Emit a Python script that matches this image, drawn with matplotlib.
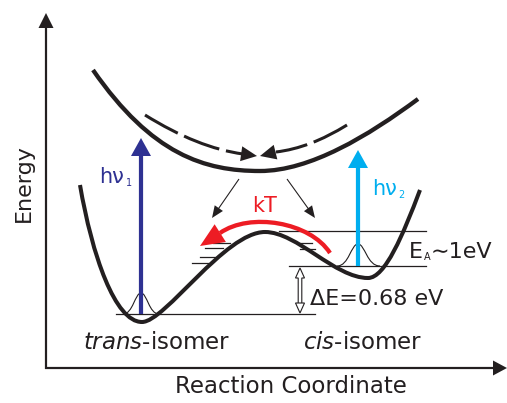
import matplotlib
matplotlib.use("Agg")
import matplotlib.pyplot as plt
from matplotlib.path import Path
from matplotlib.patches import PathPatch

plt.rcParams['font.family'] = ['DejaVu Sans']
plt.rcParams['mathtext.fontset'] = 'dejavusans'
plt.rcParams['lines.scale_dashes'] = False

INK = '#231f20'
DARK_BLUE = '#2e3192'
LIGHT_BLUE = '#00aeef'
RED = '#ed1c24'

# ---- geometry (pixel coordinates, y downward) ----
axis_origin = (46, 368)
axis_top = 13
axis_right = 507

# ground-state potential: cubic Bezier (anchor, ctrl, ctrl, anchor, ...)
ground_curve = [(80, 185), (92, 255), (115, 322), (142, 322),
                (165, 322), (225, 232), (265, 232),
                (297, 232), (335, 278), (368, 278),
                (385, 278), (403, 235), (420, 190)]
# excited-state potential
excited_curve = [(93, 70), (152, 155), (205, 171), (260, 171),
                 (310, 171), (368, 136), (418, 99)]
# dashed relaxation paths (quadratic Bezier) and their heads
dash_left = [(145, 115), (198, 148), (243, 154)]
dash_left_head = [(243, 154), (257, 156)]
dash_right = [(347, 125), (310, 148), (276, 152)]
dash_right_head = [(276, 152), (260, 156)]
# thermal (kT) path
kt_curve = [(330, 253), (310, 222), (250, 212), (220, 233)]
kt_head = [(222, 232), (200, 246)]
# thin decay arrows
decay_arrows = [((239, 179), (212, 218)), ((287, 179), (315, 218))]
# optical excitations: (x, y_from, y_to)
hv1 = (141, 314, 138)
hv2 = (358, 266, 150)
# vibrational wave packets
packet_trans = [(123, 314), (133, 314), (135, 293), (141, 293),
                (147, 293), (149, 314), (159, 314)]
packet_cis = [(337, 266), (349, 266), (351, 244), (358, 244),
              (365, 244), (367, 266), (380, 266)]
# energy levels: (y, x_start, x_end)
levels = [(314, 116, 315), (266, 289, 426), (231, 279, 426)]
small_levels = [(243, 213, 230), (248, 205, 223), (257, 200, 217), (263, 192, 208),
                (243, 297, 312), (249, 300, 315)]
# Delta E arrow (x, y_top, y_bottom)
delta_e = (300, 268, 313)


def bezier(points, order=3):
    code = Path.CURVE4 if order == 3 else Path.CURVE3
    codes = [Path.MOVETO] + [code] * (len(points) - 1)
    return Path(points, codes)


fig = plt.figure(figsize=(5.07, 4.03), dpi=100)
ax = fig.add_axes([0, 0, 1, 1])
ax.set_xlim(0, 507)
ax.set_ylim(403, 0)
ax.axis('off')

# axes arrows
ox, oy = axis_origin
ax.arrow(ox, oy + 1, 0, axis_top - oy - 1, width=2.2, head_width=15, head_length=15,
         length_includes_head=True, color=INK, lw=0)
ax.arrow(ox - 1, oy, axis_right - ox + 1, 0, width=2.2, head_width=15, head_length=14,
         length_includes_head=True, color=INK, lw=0)

# energy levels
for y, x0, x1 in levels:
    ax.plot([x0, x1], [y, y], color=INK, lw=0.9)
for y, x0, x1 in small_levels:
    ax.plot([x0, x1], [y, y], color=INK, lw=0.9)

# wave packets
for pk in (packet_trans, packet_cis):
    ax.add_patch(PathPatch(bezier(pk), fill=False, ec=INK, lw=0.8))

# potential curves
ax.add_patch(PathPatch(bezier(ground_curve), fill=False, ec=INK, lw=2.9,
                       capstyle='butt'))
ax.add_patch(PathPatch(bezier(excited_curve), fill=False, ec=INK, lw=3.1,
                       capstyle='butt'))

# dashed relaxation arrows
for crv, hd in ((dash_left, dash_left_head), (dash_right, dash_right_head)):
    ax.add_patch(PathPatch(bezier(crv, order=2), fill=False, ec=INK, lw=2.2,
                           linestyle=(0, (27, 5)), capstyle='butt'))
    (x0, y0), (x1, y1) = hd
    ax.arrow(x0, y0, x1 - x0, y1 - y0, width=0.5, head_width=15, head_length=16,
             length_includes_head=True, color=INK, lw=0)

# thin decay arrows
for (x0, y0), (x1, y1) in decay_arrows:
    ax.arrow(x0, y0, x1 - x0, y1 - y0, width=1.1, head_width=10, head_length=12,
             length_includes_head=True, color=INK, lw=0)

# photon arrows
for (x, y0, y1), col in ((hv1, DARK_BLUE), (hv2, LIGHT_BLUE)):
    ax.arrow(x, y0, 0, y1 - y0, width=4.2, head_width=20, head_length=18,
             length_includes_head=True, color=col, lw=0, zorder=3)

# kT arrow
ax.add_patch(PathPatch(bezier(kt_curve), fill=False, ec=RED, lw=3.1,
                       capstyle='butt', zorder=4))
(x0, y0), (x1, y1) = kt_head
ax.arrow(x0, y0, x1 - x0, y1 - y0, width=0.5, head_width=21, head_length=24,
         length_includes_head=True, color=RED, lw=0, zorder=4)

# Delta E hollow double arrow
x, yt, yb = delta_e
ax.arrow(x, yb - 9, 0, yt - (yb - 9), width=3.6, head_width=9, head_length=10,
         length_includes_head=True, fc='white', ec=INK, lw=0.8, zorder=5)
ax.arrow(x, yb - 10, 0, 10, width=3.6, head_width=9, head_length=10,
         length_includes_head=True, fc='white', ec=INK, lw=0.8, zorder=6)

# text
ax.text(24, 183, 'Energy', rotation=90, ha='center', va='center',
        fontsize=16, color=INK)
ax.text(291, 393, 'Reaction Coordinate', ha='center', va='baseline',
        fontsize=16.5, color=INK)
ax.text(83, 349, r'$\mathit{trans}$-isomer', ha='left', va='baseline',
        fontsize=16.5, color=INK)
ax.text(303, 349, r'$\mathit{cis}$-isomer', ha='left', va='baseline',
        fontsize=16.5, color=INK)
ax.text(99, 183, 'hν', ha='left', va='baseline', fontsize=15, color=DARK_BLUE)
ax.text(125.5, 186, '1', ha='left', va='baseline', fontsize=7, color=DARK_BLUE)
ax.text(372, 195, 'hν', ha='left', va='baseline', fontsize=15, color=LIGHT_BLUE)
ax.text(398.5, 198, '2', ha='left', va='baseline', fontsize=7, color=LIGHT_BLUE)
ax.text(265, 212, 'kT', ha='center', va='baseline', fontsize=15, color=RED)
ax.text(409, 258, 'E', ha='left', va='baseline', fontsize=16, color=INK)
ax.text(423.5, 260, 'A', ha='left', va='baseline', fontsize=7, color=INK)
ax.text(431, 258, '∼1eV', ha='left', va='baseline', fontsize=16, color=INK)
ax.text(310, 305, 'ΔE=0.68 eV', ha='left', va='baseline',
        fontsize=16, color=INK)

fig.savefig('out.png', dpi=100)
